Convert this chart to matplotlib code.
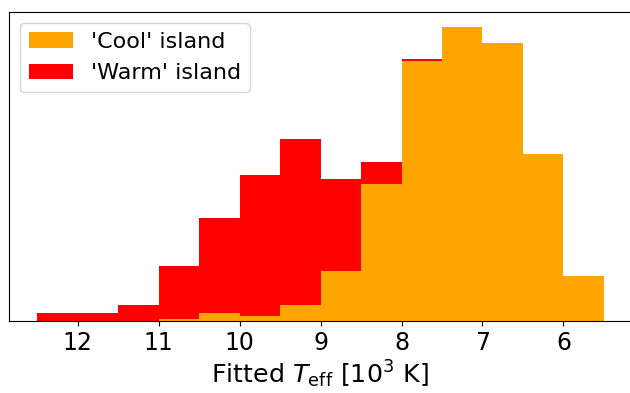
import numpy as np
import matplotlib
matplotlib.use("Agg")
import matplotlib.pyplot as plt

# Bin edges (10^3 K) and stacked histogram heights (arbitrary units)
bin_edges = [12.5, 12.0, 11.5, 11.0, 10.5, 10.0, 9.5, 9.0, 8.5, 8.0, 7.5, 7.0, 6.5, 6.0, 5.5]
cool_counts = [0, 0, 0, 1.7, 7.7, 5.0, 16.0, 50.0, 137.7, 260.7, 294.7, 278.3, 167.0, 44.7]
warm_counts = [7.7, 7.7, 16.0, 53.6, 95.6, 141.0, 166.7, 92.7, 21.3, 1.3, 0, 0, 0, 0]
xticks = [12, 11, 10, 9, 8, 7, 6]

plt.rcParams['font.size'] = 17

fig = plt.figure(figsize=(6.3, 3.93), dpi=100)
ax = fig.add_axes([0.0135, 0.183, 0.99, 0.7865])

edges = np.array(bin_edges)
centers = (edges[:-1] + edges[1:]) / 2
ax.hist([centers, centers], bins=edges[::-1], weights=[cool_counts, warm_counts],
        stacked=True, histtype='stepfilled', color=['orange', 'red'],
        label=["'Cool' island", "'Warm' island"])

ax.set_xlim(12.855, 5.15)
ax.set_yticks([])
ax.set_xticks(xticks)
ax.set_xlabel(r"Fitted $T_{\rm eff}$ [10$^3$ K]", fontsize=18.3, labelpad=3)
handles, labels = ax.get_legend_handles_labels()
ax.legend(handles[::-1], labels[::-1], loc='upper left', fontsize=16)

fig.savefig("out.png", dpi=100)
